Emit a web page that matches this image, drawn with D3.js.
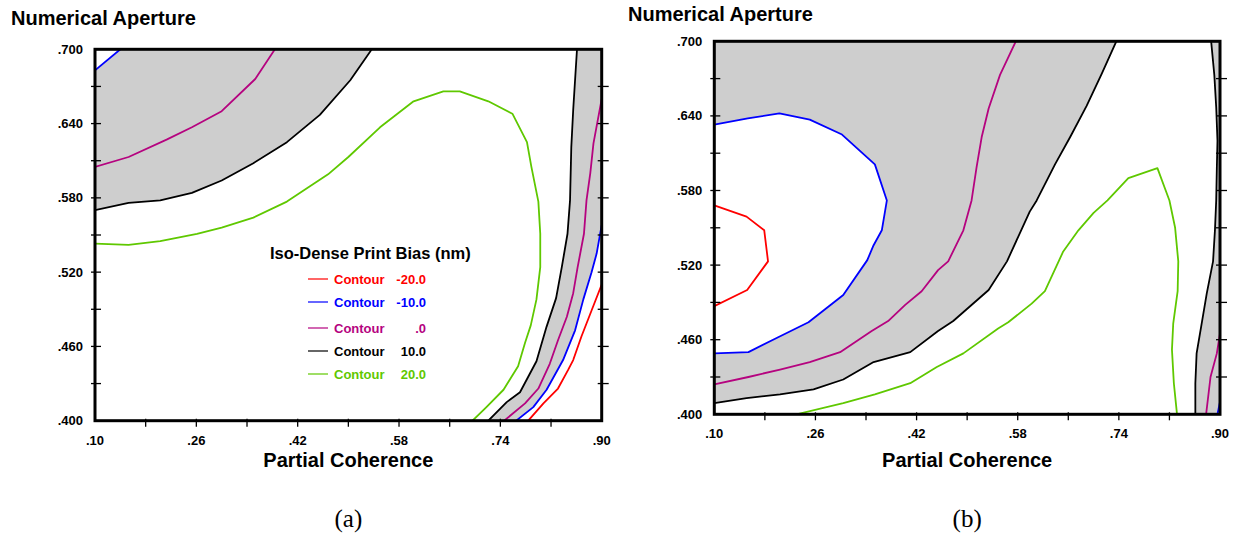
<!DOCTYPE html>
<html>
<head>
<meta charset="utf-8">
<script src="https://cdn.jsdelivr.net/npm/d3@7"></script>
<style>
body { margin: 0; background: #fff; }
text { font-family: Arial, "Liberation Sans", sans-serif; }
</style>
</head>
<body>
<svg id="chart" width="1235" height="533"></svg>
<script>
// axis values
var xDomain = [0.10, 0.90];
var yDomain = [0.400, 0.700];
var xLabels = [0.10, 0.26, 0.42, 0.58, 0.74, 0.90];
var xMinor = [0.18, 0.26, 0.34, 0.42, 0.50, 0.58, 0.66, 0.74, 0.82];
var yLabels = [0.400, 0.460, 0.520, 0.580, 0.640, 0.700];
var yMinor = [0.43, 0.46, 0.49, 0.52, 0.55, 0.58, 0.61, 0.64, 0.67];

// legend
var levels = [-20, -10, 0, 10, 20];
var levelText = ["-20.0", "-10.0", ".0", "10.0", "20.0"];
var levelColor = { "-20": "#ff0000", "-10": "#0000ff", "0": "#b5037f", "10": "#000000", "20": "#5fc800" };

// panel (a) contours [partial coherence, NA]
var aBlueTop = [[0.100,0.683],[0.140,0.700]];
var aMagTop = [[0.100,0.605],[0.153,0.613],[0.213,0.627],[0.253,0.637],[0.300,0.650],[0.353,0.676],[0.384,0.700]];
var aBlackTop = [[0.100,0.570],[0.153,0.576],[0.203,0.578],[0.253,0.584],[0.300,0.594],[0.350,0.608],[0.403,0.625],[0.455,0.647],[0.503,0.675],[0.537,0.700]];
var aGreen = [[0.100,0.543],[0.153,0.542],[0.203,0.545],[0.261,0.551],[0.300,0.556],[0.350,0.564],[0.403,0.577],[0.468,0.599],[0.500,0.613],[0.550,0.637],[0.603,0.658],[0.650,0.666],[0.676,0.666],[0.721,0.658],[0.759,0.648],[0.782,0.625],[0.789,0.605],[0.800,0.577],[0.803,0.551],[0.803,0.524],[0.797,0.498],[0.788,0.477],[0.779,0.463],[0.768,0.444],[0.745,0.425],[0.718,0.411],[0.696,0.400]];
var aBlackRight = [[0.861,0.700],[0.855,0.651],[0.852,0.621],[0.850,0.578],[0.846,0.551],[0.837,0.524],[0.828,0.499],[0.813,0.476],[0.797,0.448],[0.771,0.423],[0.750,0.415],[0.721,0.400]];
var aMagRight = [[0.900,0.660],[0.887,0.624],[0.882,0.600],[0.876,0.578],[0.872,0.551],[0.862,0.524],[0.855,0.503],[0.845,0.484],[0.831,0.465],[0.818,0.446],[0.800,0.426],[0.779,0.414],[0.746,0.400]];
var aBlueRight = [[0.900,0.558],[0.892,0.535],[0.884,0.520],[0.871,0.498],[0.858,0.473],[0.839,0.449],[0.813,0.425],[0.792,0.411],[0.765,0.400]];
var aRedRight = [[0.900,0.510],[0.884,0.489],[0.868,0.468],[0.855,0.449],[0.847,0.441],[0.831,0.426],[0.808,0.414],[0.784,0.400]];

// panel (b) contours
var bRed = [[0.100,0.568],[0.151,0.559],[0.179,0.548],[0.185,0.523],[0.152,0.500],[0.100,0.487]];
var bBlue = [[0.100,0.633],[0.153,0.638],[0.203,0.642],[0.251,0.637],[0.302,0.625],[0.354,0.601],[0.373,0.572],[0.365,0.548],[0.352,0.536],[0.342,0.524],[0.304,0.496],[0.249,0.474],[0.201,0.462],[0.154,0.450],[0.100,0.449]];
var bMag = [[0.577,0.700],[0.552,0.673],[0.534,0.646],[0.523,0.623],[0.515,0.599],[0.507,0.572],[0.494,0.548],[0.470,0.523],[0.454,0.516],[0.428,0.499],[0.402,0.488],[0.375,0.475],[0.349,0.467],[0.299,0.450],[0.251,0.442],[0.204,0.436],[0.154,0.430],[0.100,0.424]];
var bBlack = [[0.736,0.700],[0.713,0.674],[0.689,0.648],[0.663,0.623],[0.639,0.601],[0.610,0.572],[0.599,0.563],[0.563,0.523],[0.534,0.500],[0.478,0.475],[0.454,0.467],[0.410,0.450],[0.352,0.442],[0.304,0.428],[0.257,0.420],[0.204,0.416],[0.151,0.413],[0.100,0.409]];
var bGreen = [[0.230,0.400],[0.304,0.409],[0.354,0.416],[0.410,0.425],[0.452,0.438],[0.494,0.449],[0.549,0.469],[0.565,0.474],[0.602,0.489],[0.623,0.499],[0.652,0.531],[0.676,0.548],[0.700,0.562],[0.722,0.572],[0.755,0.590],[0.801,0.598],[0.820,0.572],[0.829,0.550],[0.834,0.523],[0.833,0.499],[0.826,0.473],[0.824,0.452],[0.827,0.425],[0.832,0.400]];
var bBlackRight = [[0.886,0.700],[0.891,0.673],[0.894,0.647],[0.896,0.620],[0.895,0.598],[0.894,0.572],[0.892,0.548],[0.889,0.523],[0.879,0.497],[0.871,0.473],[0.863,0.449],[0.861,0.425],[0.861,0.400]];
var bMagRight = [[0.900,0.465],[0.895,0.449],[0.885,0.430],[0.878,0.400]];
var bBlueRight = [[0.900,0.410],[0.896,0.400]];

var svg = d3.select("#chart");
var fmt2 = function(v){ return d3.format(".2f")(v).replace(/^0/, ""); };
var fmt3 = function(v){ return d3.format(".3f")(v).replace(/^0/, ""); };

function drawPanel(p) {
  var x = d3.scaleLinear().domain(xDomain).range([p.left, p.left + p.width]);
  var y = d3.scaleLinear().domain(yDomain).range([p.top + p.height, p.top]);
  var line = d3.line().x(function(d){ return x(d[0]); }).y(function(d){ return y(d[1]); });
  var g = svg.append("g");

  g.append("clipPath").attr("id", "clip" + p.id).append("rect")
    .attr("x", p.left).attr("y", p.top).attr("width", p.width).attr("height", p.height);
  var plot = g.append("g").attr("clip-path", "url(#clip" + p.id + ")");

  // gray band between +10 and -10
  p.gray.forEach(function(poly){
    plot.append("path").attr("d", line(poly) + "Z").attr("fill", "#cecece").attr("stroke", "none");
  });
  p.lines.forEach(function(c){
    plot.append("path").attr("d", line(c.pts)).attr("fill", "none")
      .attr("stroke", levelColor[c.level]).attr("stroke-width", 1.8).attr("stroke-linejoin", "round");
  });

  // frame
  g.append("rect").attr("x", p.left).attr("y", p.top).attr("width", p.width).attr("height", p.height)
    .attr("fill", "none").attr("stroke", "#000").attr("stroke-width", 3);

  // ticks
  yMinor.forEach(function(v){
    g.append("line").attr("x1", p.left - 4).attr("x2", p.left + 6).attr("y1", y(v)).attr("y2", y(v))
      .attr("stroke", "#000").attr("stroke-width", 1.3);
    g.append("line").attr("x1", p.left + p.width - 4).attr("x2", p.left + p.width + 7).attr("y1", y(v)).attr("y2", y(v))
      .attr("stroke", "#000").attr("stroke-width", 1.3);
  });
  xMinor.forEach(function(v){
    g.append("line").attr("x1", x(v)).attr("x2", x(v)).attr("y1", p.top + p.height - 2).attr("y2", p.top + p.height + 6)
      .attr("stroke", "#000").attr("stroke-width", 1.3);
  });

  g.selectAll(".yl").data(yLabels).enter().append("text")
    .attr("x", p.left - 12).attr("y", function(d){ return y(d) + 4.5; })
    .attr("text-anchor", "end").attr("font-size", 13).attr("font-weight", "bold")
    .text(fmt3);
  g.selectAll(".xl").data(xLabels).enter().append("text")
    .attr("x", function(d){ return x(d); }).attr("y", p.top + p.height + 24)
    .attr("text-anchor", "middle").attr("font-size", 13).attr("font-weight", "bold")
    .text(fmt2);

  g.append("text").attr("x", p.yTitleX).attr("y", p.yTitleY)
    .attr("font-size", 20).attr("font-weight", "bold").text("Numerical Aperture");
  g.append("text").attr("x", p.left + p.width / 2).attr("y", 467).attr("text-anchor", "middle")
    .attr("font-size", 20).attr("font-weight", "bold").text("Partial Coherence");
  g.append("text").attr("x", p.left + p.width / 2).attr("y", 527).attr("text-anchor", "middle")
    .style("font-family", "'Liberation Serif', 'Times New Roman', serif").attr("font-size", 25)
    .text(p.caption);

  return { x: x, y: y };
}

// corners used to close the gray regions
var TL = [xDomain[0], yDomain[1]], TR = [xDomain[1], yDomain[1]];

drawPanel({
  id: "a", left: 95, top: 49.3, width: 506.7, height: 371.4, yTitleX: 11, yTitleY: 25, caption: "(a)",
  gray: [
    aBlackTop.concat(aBlueTop.slice().reverse()),
    aBlackRight.concat(aBlueRight.slice().reverse(), [TR])
  ],
  lines: [
    { level: -10, pts: aBlueTop }, { level: 0, pts: aMagTop }, { level: 10, pts: aBlackTop },
    { level: 20, pts: aGreen }, { level: 10, pts: aBlackRight }, { level: 0, pts: aMagRight },
    { level: -10, pts: aBlueRight }, { level: -20, pts: aRedRight }
  ]
});

drawPanel({
  id: "b", left: 714.3, top: 41.3, width: 505.7, height: 373, yTitleX: 628, yTitleY: 21, caption: "(b)",
  gray: [
    [TL].concat(bBlue, bBlack.slice().reverse()),
    bBlackRight.concat(bBlueRight.slice().reverse(), [TR])
  ],
  lines: [
    { level: -20, pts: bRed }, { level: -10, pts: bBlue }, { level: 0, pts: bMag },
    { level: 10, pts: bBlack }, { level: 20, pts: bGreen }, { level: 10, pts: bBlackRight },
    { level: 0, pts: bMagRight }, { level: -10, pts: bBlueRight }
  ]
});

// legend in panel (a)
var leg = svg.append("g");
leg.append("text").attr("x", 270).attr("y", 259).attr("font-size", 16.5).attr("font-weight", "bold")
  .text("Iso-Dense Print Bias (nm)");
var rowY = [284, 307, 333, 356, 379];
levels.forEach(function(lv, i){
  var c = levelColor[lv];
  leg.append("line").attr("x1", 308).attr("x2", 328).attr("y1", rowY[i] - 5).attr("y2", rowY[i] - 5)
    .attr("stroke", c).attr("stroke-width", 1.2);
  leg.append("text").attr("x", 334).attr("y", rowY[i]).attr("font-size", 13).attr("font-weight", "bold")
    .attr("fill", c).text("Contour");
  leg.append("text").attr("x", 426).attr("y", rowY[i]).attr("font-size", 13).attr("font-weight", "bold")
    .attr("text-anchor", "end").attr("fill", c).text(levelText[i]);
});
</script>
</body>
</html>
